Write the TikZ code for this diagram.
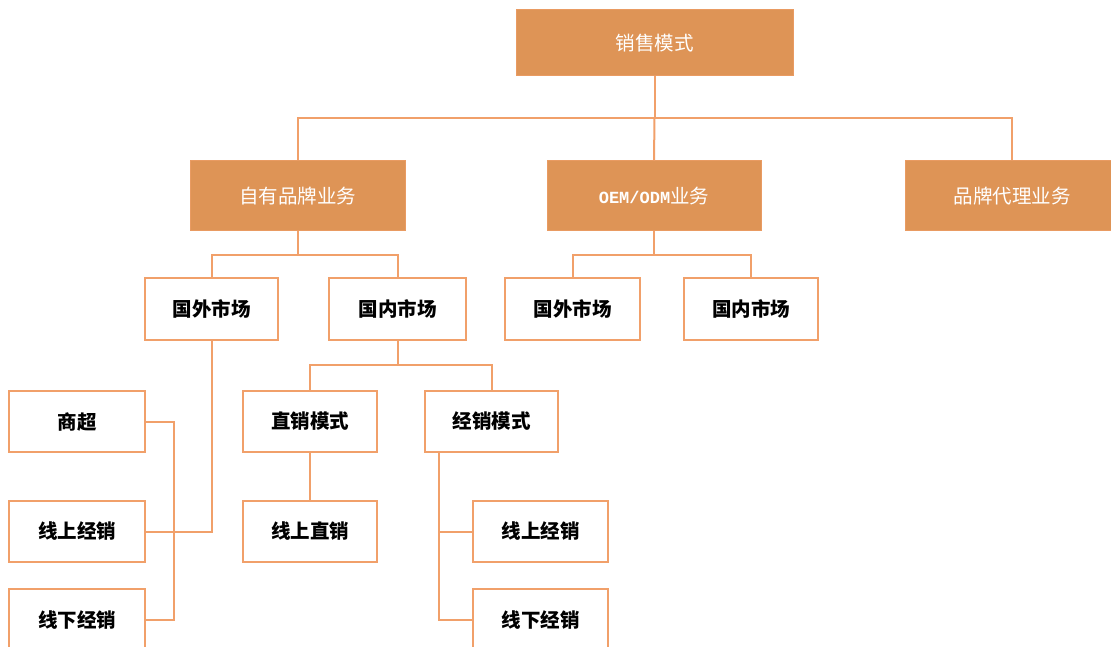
\documentclass[tikz,border=0pt]{standalone}
\usepackage{fontspec}
\newfontfamily\cjk{Noto Sans CJK SC}
\newfontfamily\lat{Liberation Mono}
\definecolor{fillor}{RGB}{222,148,86}
\definecolor{lineor}{RGB}{241,160,106}
\begin{document}
\begin{tikzpicture}[x=1pt,y=-1pt,
  link/.style={draw=lineor,line width=2pt},
  topbox/.style={draw=lineor!60!fillor,line width=1pt,fill=fillor,text=white,inner sep=0pt,
    font=\cjk\fontsize{19.5}{19.5}\selectfont},
  wbox/.style={draw=lineor,line width=2pt,fill=white,text=black,inner sep=0pt,
    minimum height=61pt,font=\cjk\bfseries\fontsize{19.5}{19.5}\selectfont}]
\clip (0,0) rectangle (1111,647);
\fill[white] (0,0) rectangle (1111,647);
% coordinates for bars
\coordinate (bar0) at (0,118);
\coordinate (bar1) at (0,255);
\coordinate (bar2) at (0,365);
% nodes
\node[topbox,minimum width=277pt,minimum height=66pt] (top) at (654.5,43) {销售模式};
\node[topbox,minimum width=215pt,minimum height=70pt] (b1) at (297.5,196) {自有品牌业务};
\node[topbox,minimum width=214pt,minimum height=70pt] (b2) at (654,196) {{\lat\bfseries\fontsize{17}{17}\selectfont OEM/ODM}业务};
\node[topbox,minimum width=214pt,minimum height=70pt] (b3) at (1012,196) {品牌代理业务};
\node[wbox,minimum width=133pt,minimum height=62pt] (m1) at (211.5,309) {国外市场};
\node[wbox,minimum width=137pt,minimum height=62pt] (m2) at (397.5,309) {国内市场};
\node[wbox,minimum width=135pt,minimum height=62pt] (m3) at (572.5,309) {国外市场};
\node[wbox,minimum width=134pt,minimum height=62pt] (m4) at (751,309) {国内市场};
\node[wbox,minimum width=136pt] (sc) at (77,421.5) {商超};
\node[wbox,minimum width=136pt] (sxa) at (77,531.5) {线上经销};
\node[wbox,minimum width=136pt,minimum height=62pt] (xxa) at (77,620) {线下经销};
\node[wbox,minimum width=134pt] (zx) at (310,421.5) {直销模式};
\node[wbox,minimum width=133pt] (jx) at (491.5,421.5) {经销模式};
\node[wbox,minimum width=134pt] (zs) at (310,531.5) {线上直销};
\node[wbox,minimum width=135pt] (sxb) at (540.5,531.5) {线上经销};
\node[wbox,minimum width=135pt,minimum height=62pt] (xxb) at (540.5,620) {线下经销};
% connectors
\draw[link] (top.south) -- (top.south |- bar0);
\draw[link] (b1.north) |- (bar0 -| b3.north) -- (b3.north);
\draw[link] (top.south |- bar0) -- (b2.north);
\draw[link] (b1.south) -- (b1.south |- bar1);
\draw[link] (m1.north) |- (bar1 -| m2.north) -- (m2.north);
\draw[link] (b2.south) -- (b2.south |- bar1);
\draw[link] (m3.north) |- (bar1 -| m4.north) -- (m4.north);
\draw[link] (m1.south) |- (sxa.east);
\draw[link] (sc.east) -- ++(28,0) coordinate (scr) |- (xxa.east);
\draw[link] (m2.south) -- (m2.south |- bar2);
\draw[link] (zx.north) |- (bar2 -| jx.north) -- (jx.north);
\draw[link] (zx.south) -- (zs.north);
\draw[link] ([xshift=15pt]jx.south west) coordinate (jxl) |- (xxb.west);
\draw[link] (sxb.west) -- (sxb.west -| jxl);
\end{tikzpicture}
\end{document}
